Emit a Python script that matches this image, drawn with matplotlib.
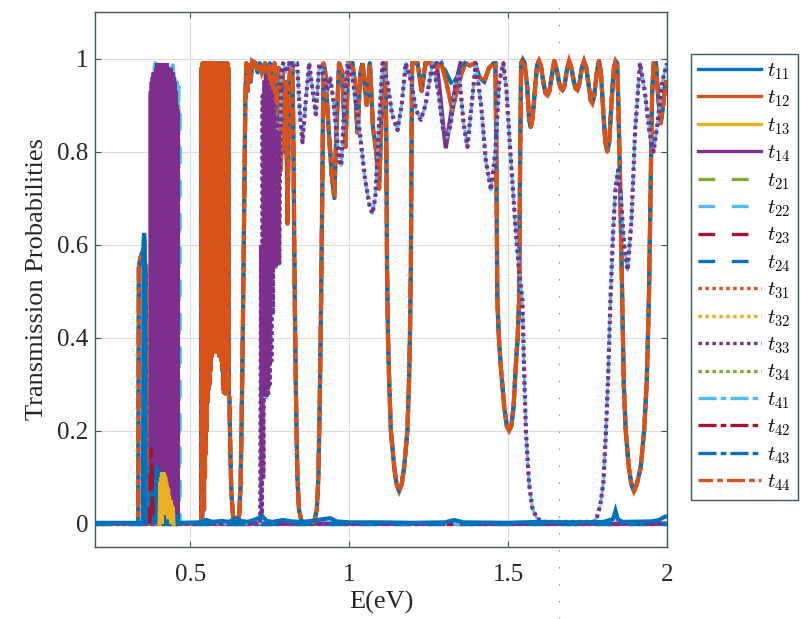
import numpy as np
import matplotlib
matplotlib.use('Agg')
import matplotlib.pyplot as plt

# ---------------- data ----------------
x_ticks = [0.5, 1, 1.5, 2]
x_tick_labels = ['0.5', '1', '1.5', '2']
y_ticks = [0, 0.2, 0.4, 0.6, 0.8, 1]
y_tick_labels = ['0', '0.2', '0.4', '0.6', '0.8', '1']
series_names = ['11', '12', '13', '14', '21', '22', '23', '24',
                '31', '32', '33', '34', '41', '42', '43', '44']
artifact_x = 1.66  # faint dotted scan line

# main orange curve t12
t12_pts = [
    (0.20, 0.0), (0.336, 0.0), (0.338, 0.55), (0.342, 0.57), (0.347, 0.58), (0.352, 0.57),
    (0.357, 0.56), (0.361, 0.55), (0.363, 0.0), (0.533, 0.0),
    (0.534, 0.0), (0.5355, 0.98), (0.537, 0.02), (0.5385, 0.99), (0.540, 0.05), (0.5415, 0.97),
    (0.543, 0.03), (0.5445, 0.99), (0.546, 0.10), (0.5475, 0.98), (0.549, 0.15), (0.5505, 0.99),
    (0.552, 0.20), (0.5535, 0.98), (0.555, 0.26), (0.5565, 0.99), (0.558, 0.29), (0.5595, 0.97),
    (0.561, 0.30), (0.5625, 0.99), (0.564, 0.33), (0.5655, 0.98), (0.567, 0.36), (0.5685, 0.99),
    (0.570, 0.37), (0.5715, 0.98), (0.573, 0.38), (0.5745, 0.99), (0.576, 0.37), (0.5775, 0.97),
    (0.579, 0.38), (0.5805, 0.99), (0.582, 0.37), (0.5835, 0.98), (0.585, 0.38), (0.5865, 0.99),
    (0.588, 0.37), (0.5895, 0.98), (0.591, 0.36), (0.5925, 0.99), (0.594, 0.36), (0.5955, 0.97),
    (0.597, 0.35), (0.5985, 0.99), (0.600, 0.33), (0.6015, 0.98), (0.603, 0.29), (0.6045, 0.99),
    (0.606, 0.28), (0.6075, 0.98), (0.609, 0.28), (0.6105, 0.99), (0.612, 0.29), (0.6135, 0.97),
    (0.615, 0.28), (0.6165, 0.99), (0.618, 0.29), (0.6195, 0.98), (0.621, 0.28),
    (0.623, 0.27), (0.626, 0.15), (0.629, 0.07), (0.634, 0.02), (0.640, 0.0), (0.648, 0.0),
    (0.654, 0.02), (0.658, 0.08), (0.661, 0.2), (0.665, 0.4), (0.669, 0.65), (0.673, 0.9), (0.676, 0.99),
    (0.680, 0.93), (0.685, 0.99), (0.690, 0.95), (0.695, 0.995), (0.705, 0.99), (0.712, 0.97),
    (0.718, 0.99), (0.725, 0.97), (0.735, 0.99), (0.742, 0.92), (0.750, 0.99), (0.758, 0.90),
    (0.765, 0.99), (0.772, 0.85), (0.778, 0.98), (0.785, 0.76), (0.790, 0.97), (0.797, 0.80),
    (0.801, 0.95), (0.806, 0.645), (0.811, 0.95), (0.816, 0.99), (0.821, 0.99),
    (0.824, 0.85), (0.827, 0.6), (0.830, 0.4), (0.833, 0.25), (0.837, 0.1), (0.842, 0.03),
    (0.850, 0.005), (0.870, 0.0), (0.890, 0.005), (0.898, 0.03), (0.903, 0.1), (0.907, 0.25),
    (0.911, 0.45), (0.915, 0.7), (0.919, 0.99),
    (0.925, 0.97), (0.935, 0.85), (0.945, 0.75), (0.953, 0.70), (0.960, 0.85), (0.968, 0.99),
    (0.978, 0.97), (0.988, 0.81), (0.997, 0.99), (1.010, 0.99), (1.018, 0.95), (1.026, 0.84),
    (1.035, 0.97), (1.042, 0.99), (1.055, 0.90), (1.065, 0.99), (1.075, 0.85), (1.085, 0.80),
    (1.094, 0.72), (1.103, 0.90), (1.110, 0.99),
    (1.114, 0.99), (1.117, 0.8), (1.119, 0.55), (1.122, 0.4), (1.126, 0.3), (1.131, 0.2),
    (1.1415, 0.122), (1.149, 0.085), (1.157, 0.07), (1.165, 0.085), (1.173, 0.122), (1.183, 0.2),
    (1.188, 0.3), (1.191, 0.4), (1.194, 0.55), (1.196, 0.8), (1.198, 0.99),
    (1.215, 0.99), (1.228, 0.93), (1.240, 0.99), (1.260, 0.99), (1.275, 0.98), (1.290, 0.99),
    (1.305, 0.95), (1.315, 0.92), (1.325, 0.889), (1.335, 0.92), (1.350, 0.96), (1.365, 0.99),
    (1.380, 0.985), (1.395, 0.99), (1.410, 0.96), (1.425, 0.95), (1.440, 0.98), (1.455, 0.99),
    (1.460, 0.99), (1.463, 0.8), (1.466, 0.48), (1.471, 0.4), (1.477, 0.337), (1.488, 0.25),
    (1.496, 0.21), (1.503, 0.2), (1.510, 0.21), (1.517, 0.25), (1.524, 0.337), (1.530, 0.4),
    (1.5346, 0.48), (1.538, 0.8), (1.541, 0.99),
    (1.546, 0.998), (1.552, 0.99), (1.560, 0.94), (1.566, 0.87), (1.571, 0.853), (1.577, 0.87),
    (1.584, 0.93), (1.591, 0.985), (1.597, 0.995), (1.603, 0.985), (1.612, 0.945), (1.618, 0.925),
    (1.624, 0.921), (1.630, 0.93), (1.638, 0.965), (1.645, 0.995), (1.652, 0.98), (1.660, 0.95),
    (1.666, 0.935), (1.671, 0.932), (1.677, 0.94), (1.685, 0.975), (1.692, 0.995), (1.699, 0.98),
    (1.707, 0.95), (1.713, 0.935), (1.718, 0.932), (1.724, 0.945), (1.732, 0.98), (1.739, 0.995),
    (1.746, 0.98), (1.754, 0.94), (1.760, 0.91), (1.765, 0.904), (1.771, 0.92), (1.779, 0.97),
    (1.786, 0.995), (1.792, 0.97), (1.800, 0.88), (1.806, 0.82), (1.812, 0.80), (1.818, 0.82),
    (1.825, 0.90), (1.832, 0.975), (1.838, 0.995), (1.843, 0.99),
    (1.847, 0.9), (1.852, 0.75), (1.8594, 0.48), (1.864, 0.3), (1.870, 0.2), (1.880, 0.12),
    (1.888, 0.085), (1.896, 0.07), (1.905, 0.085), (1.917, 0.12), (1.928, 0.2), (1.936, 0.3),
    (1.943, 0.48), (1.948, 0.7), (1.953, 0.92), (1.958, 0.99),
    (1.965, 0.99), (1.972, 0.92), (1.980, 0.86), (1.988, 0.90), (1.995, 0.95), (2.0, 0.93),
]
# blue dash-dot companion t43 differs from t12 only in the dip near 1.32 eV
t43_dip = [(1.305, 0.97), (1.315, 0.955), (1.325, 0.943), (1.335, 0.955), (1.350, 0.975)]

# purple solid t14: dense block 0.37-0.46 eV and dip near 1.30 eV
t14_pts = [
    (0.20, 0.0), (0.374, 0.0),
    (0.3755, 0.93), (0.377, 0.0), (0.3785, 0.95), (0.380, 0.0), (0.3815, 0.96), (0.383, 0.0),
    (0.3845, 0.97), (0.386, 0.0), (0.3875, 0.96), (0.389, 0.0), (0.3905, 0.97), (0.392, 0.0),
    (0.3935, 0.98), (0.395, 0.0), (0.3965, 0.99), (0.398, 0.0), (0.3995, 0.98), (0.401, 0.0),
    (0.4025, 0.99), (0.404, 0.0), (0.4055, 0.99), (0.407, 0.0), (0.4085, 0.98), (0.410, 0.0),
    (0.4115, 0.99), (0.413, 0.0), (0.4145, 0.99), (0.416, 0.0), (0.4175, 0.98), (0.419, 0.0),
    (0.4205, 0.99), (0.422, 0.0), (0.4235, 0.98), (0.425, 0.0), (0.4265, 0.99), (0.428, 0.0),
    (0.4295, 0.98), (0.431, 0.0), (0.4325, 0.98), (0.434, 0.0), (0.4355, 0.97), (0.437, 0.0),
    (0.4385, 0.98), (0.440, 0.0), (0.4415, 0.97), (0.443, 0.0), (0.4445, 0.97), (0.446, 0.0),
    (0.4475, 0.96), (0.449, 0.0), (0.4505, 0.95), (0.452, 0.0), (0.4535, 0.93), (0.455, 0.0),
    (0.4565, 0.90), (0.458, 0.0), (0.4595, 0.89), (0.461, 0.0), (0.462, 0.0),
    (1.270, 0.0), (1.270, np.nan),
    (1.275, 0.99), (1.285, 0.93), (1.295, 0.86), (1.304, 0.807), (1.313, 0.85), (1.325, 0.90),
    (1.340, 0.96), (1.350, 0.99), (1.355, np.nan), (1.355, 0.0), (2.0, 0.0),
]

# purple dotted t33 (the light-blue dash-dot t41 follows it)
t33_pts = [
    (0.20, 0.0), (0.718, 0.0),
    (0.720, 0.0), (0.7225, 0.6), (0.725, 0.02), (0.7275, 0.92), (0.730, 0.1), (0.7325, 0.95),
    (0.735, 0.28), (0.7375, 0.96), (0.740, 0.27), (0.7425, 0.95), (0.745, 0.28), (0.7475, 0.94),
    (0.750, 0.30), (0.7525, 0.93), (0.755, 0.35), (0.7575, 0.92), (0.760, 0.45), (0.7625, 0.90),
    (0.765, 0.55), (0.7675, 0.88), (0.770, 0.55), (0.7725, 0.87), (0.775, 0.56), (0.7775, 0.84),
    (0.780, 0.56), (0.782, 0.78),
    (0.786, 0.97), (0.792, 0.99), (0.800, 0.97), (0.810, 0.99), (0.820, 0.98), (0.828, 0.99),
    (0.836, 0.99), (0.845, 0.88), (0.853, 0.82), (0.862, 0.90), (0.874, 0.99), (0.885, 0.93),
    (0.895, 0.88), (0.906, 0.99), (0.918, 0.97), (0.930, 0.93), (0.940, 0.96), (0.950, 0.91),
    (0.960, 0.84), (0.968, 0.78), (0.975, 0.77), (0.985, 0.90), (0.995, 0.99), (1.010, 0.96),
    (1.030, 0.86), (1.050, 0.74), (1.065, 0.68), (1.073, 0.667), (1.082, 0.70), (1.093, 0.85),
    (1.105, 0.99), (1.120, 0.95), (1.135, 0.88), (1.152, 0.846), (1.165, 0.90), (1.178, 0.99),
    (1.195, 0.95), (1.210, 0.89), (1.225, 0.868), (1.240, 0.90), (1.262, 0.99), (1.280, 0.93),
    (1.295, 0.85), (1.308, 0.83), (1.320, 0.86), (1.335, 0.95), (1.345, 0.97), (1.360, 0.86),
    (1.372, 0.81), (1.385, 0.90), (1.398, 0.99), (1.415, 0.90), (1.430, 0.78), (1.446, 0.717),
    (1.460, 0.80), (1.472, 0.95), (1.485, 0.99), (1.495, 0.93), (1.505, 0.82), (1.515, 0.72),
    (1.525, 0.62), (1.535, 0.54), (1.545, 0.48), (1.550, 0.337), (1.556, 0.2), (1.566, 0.085),
    (1.576, 0.035), (1.590, 0.012), (1.610, 0.004), (1.770, 0.004), (1.780, 0.015), (1.790, 0.04),
    (1.800, 0.09), (1.808, 0.2), (1.815, 0.32), (1.822, 0.48), (1.830, 0.62), (1.838, 0.72),
    (1.846, 0.76), (1.855, 0.70), (1.865, 0.60), (1.876, 0.545), (1.888, 0.65), (1.900, 0.85),
    (1.915, 0.99), (1.930, 0.93), (1.945, 0.84), (1.958, 0.80), (1.970, 0.86), (1.985, 0.95),
    (2.0, 0.99),
]

# blue solid t11: near-zero curve with a spike and a small block
t11_pts = [
    (0.20, 0.002), (0.351, 0.002), (0.3525, 0.60), (0.3545, 0.625), (0.3565, 0.61), (0.358, 0.50),
    (0.359, 0.005), (0.372, 0.003),
    (0.374, 0.0), (0.376, 0.12), (0.378, 0.0), (0.380, 0.125), (0.382, 0.0), (0.384, 0.126),
    (0.386, 0.0), (0.388, 0.12), (0.390, 0.0), (0.392, 0.126), (0.394, 0.0), (0.396, 0.12),
    (0.398, 0.0), (0.400, 0.115), (0.402, 0.0), (0.404, 0.11), (0.406, 0.0), (0.408, 0.07),
    (0.410, 0.0), (0.412, 0.055), (0.414, 0.0), (0.416, 0.055), (0.418, 0.0), (0.420, 0.05),
    (0.422, 0.0), (0.424, 0.05), (0.426, 0.0), (0.428, 0.05), (0.430, 0.0), (0.432, 0.045),
    (0.434, 0.0), (0.436, 0.03), (0.438, 0.0), (0.440, 0.025), (0.442, 0.0), (0.444, 0.025),
    (0.446, 0.0), (0.448, 0.022), (0.450, 0.0), (0.452, 0.02), (0.454, 0.0), (0.456, 0.02),
    (0.458, 0.0), (0.460, 0.015), (0.462, 0.0),
    (0.470, 0.002), (0.530, 0.003), (0.550, 0.008), (0.570, 0.004), (0.600, 0.006), (0.620, 0.004),
    (0.645, 0.012), (0.660, 0.006), (0.680, 0.004), (0.700, 0.008), (0.727, 0.016), (0.740, 0.006),
    (0.760, 0.004), (0.790, 0.008), (0.820, 0.005), (0.850, 0.004), (0.880, 0.006), (0.920, 0.010),
    (0.940, 0.012), (0.960, 0.005), (1.000, 0.003), (1.100, 0.003), (1.200, 0.002), (1.300, 0.003),
    (1.330, 0.008), (1.360, 0.003), (1.500, 0.002), (1.600, 0.004), (1.700, 0.003), (1.800, 0.004),
    (1.830, 0.010), (1.838, 0.028), (1.845, 0.010), (1.860, 0.004), (1.950, 0.005), (1.975, 0.008),
    (1.990, 0.014), (2.0, 0.016),
]

# yellow solid t13: small block near 0.42 eV (zero elsewhere, hidden under t11)
t13_pts = [
    (0.403, 0.0), (0.406, 0.09), (0.4075, 0.0), (0.409, 0.10), (0.4105, 0.0),
    (0.412, 0.11), (0.4135, 0.02), (0.415, 0.11), (0.4165, 0.03), (0.418, 0.105), (0.4195, 0.02),
    (0.421, 0.10), (0.4225, 0.03), (0.424, 0.09), (0.4255, 0.02), (0.427, 0.08), (0.4285, 0.02),
    (0.430, 0.075), (0.4315, 0.01), (0.433, 0.06), (0.4345, 0.01), (0.436, 0.05), (0.4375, 0.01),
    (0.439, 0.05), (0.4405, 0.0), (0.442, 0.04), (0.4435, 0.0), (0.445, 0.035), (0.447, 0.0),
]

# light-blue dashed t22: block tops near 0.39 and 0.45 eV
t22_pts = [
    (0.20, 0.0), (0.386, 0.0), (0.3875, 0.985), (0.389, 0.0), (0.3905, 0.99), (0.392, 0.0),
    (0.3935, 0.985), (0.395, 0.0), (0.440, 0.0), (0.4415, 0.99), (0.443, 0.0), (0.4445, 0.985),
    (0.446, 0.0), (0.4475, 0.98), (0.449, 0.0), (0.4505, 0.97), (0.452, 0.0), (0.4535, 0.96),
    (0.455, 0.0), (0.4565, 0.95), (0.458, 0.0), (0.4595, 0.94), (0.461, 0.0), (0.4625, 0.94),
    (0.464, 0.0), (0.4655, 0.90), (0.467, 0.0), (0.535, 0.0), (0.538, 0.02), (0.541, 0.0),
    (2.0, 0.0),
]

# dark-red dashed t23: narrow spike near 0.377 eV (zero elsewhere)
t23_pts = [(0.372, 0.0), (0.3765, 0.16), (0.378, 0.02), (0.3795, 0.14), (0.382, 0.0)]

# remaining channels stay at zero
zero_pts = [(0.20, 0.0), (2.0, 0.0)]

# ---------------- styling ----------------
plt.rcParams['font.family'] = ['Liberation Serif', 'DejaVu Serif']
plt.rcParams['mathtext.fontset'] = 'cm'
plt.rcParams['lines.scale_dashes'] = False

C = ['#0072BD', '#D95319', '#EDB120', '#7E2F8E', '#77AC30', '#4DBEEE', '#A2142F']
SOLID = '-'
DASH = (0, (12, 12))
DOT = (0, (2.5, 2.5))
DASHDOT = (0, (13, 3, 4, 3))
DASHDOT_OFF = (2.5, (13, 3, 4, 3))
frame_col = '#33595a'
text_col = '#262626'
LW = 3.0


def xy(pts):
    a = np.array(pts, dtype=float)
    return a[:, 0], a[:, 1]


t43_pts = sorted([p for p in t12_pts if not (1.29 < p[0] < 1.365)] + t43_dip)

data = {
    '11': t11_pts, '12': t12_pts, '13': t13_pts, '14': t14_pts,
    '21': zero_pts, '22': t22_pts, '23': t23_pts, '24': zero_pts,
    '31': zero_pts, '32': zero_pts, '33': t33_pts, '34': zero_pts,
    '41': t33_pts, '42': zero_pts, '43': t43_pts, '44': t12_pts,
}
# (colour, line style, z-order, line width)
style = {
    '11': (C[0], SOLID, 6.0, LW), '12': (C[1], SOLID, 4.0, LW), '13': (C[2], SOLID, 6.1, LW),
    '14': (C[3], SOLID, 3.0, LW), '21': (C[4], DASH, 2.0, LW), '22': (C[5], DASH, 2.5, LW),
    '23': (C[6], DASH, 6.2, LW), '24': (C[0], DASH, 5.0, LW), '31': (C[1], DOT, 2.0, LW),
    '32': (C[2], DOT, 2.0, LW), '33': (C[3], DOT, 4.6, LW), '34': (C[4], DOT, 2.0, LW),
    '41': (C[5], DASHDOT, 4.5, 2.0), '42': (C[6], DASHDOT, 2.0, LW),
    '43': (C[0], DASHDOT, 4.1, LW), '44': (C[1], DASHDOT_OFF, 4.2, LW),
}

fig = plt.figure(figsize=(8.07, 6.19), dpi=100)
ax = fig.add_axes([95 / 807, 72 / 619, 572 / 807, 535 / 619])

handles = []
for name in series_names:
    col, ls, z, lw = style[name]
    x, y = xy(data[name])
    ln, = ax.plot(x, y, color=col, linestyle=ls, lw=lw, zorder=z,
                  label=r'$t_{%s}$' % name, solid_joinstyle='miter')
    handles.append(ln)

ax.axvline(artifact_x, ymin=-0.135, ymax=1.022, clip_on=False, color='#9a9a9a',
           lw=0.9, linestyle=(0, (1.2, 11)), zorder=1)

ax.set_xlim(0.2, 2.0)
ax.set_ylim(-0.05, 1.1)
ax.set_xticks(x_ticks)
ax.set_xticklabels(x_tick_labels)
ax.set_yticks(y_ticks)
ax.set_yticklabels(y_tick_labels)
ax.grid(True, color='#dcdcdc', lw=0.8)
ax.set_axisbelow(True)
ax.tick_params(direction='in', length=4.5, width=0.8, top=True, right=True,
               colors=frame_col, labelcolor=text_col, labelsize=18)
ax.tick_params(axis='x', pad=12)
ax.tick_params(axis='y', pad=5)
for s in ax.spines.values():
    s.set_color(frame_col)
    s.set_linewidth(1.0)
ax.set_xlabel('E(eV)', fontsize=19, color=text_col, labelpad=4)
ax.set_ylabel('Transmission Probabilities', fontsize=19, color=text_col, labelpad=6)

leg = fig.legend(handles=handles, loc='upper left', bbox_to_anchor=(691 / 807, 1 - 54 / 619),
                 borderaxespad=0, fontsize=15, labelspacing=0.33, handlelength=3.0,
                 handletextpad=0.3, borderpad=0.35, fancybox=False, framealpha=1,
                 edgecolor=frame_col)
leg.get_frame().set_linewidth(1.0)
for l in leg.get_lines():
    l.set_linewidth(2.4)

fig.savefig('out.png', dpi=100, facecolor='white')
